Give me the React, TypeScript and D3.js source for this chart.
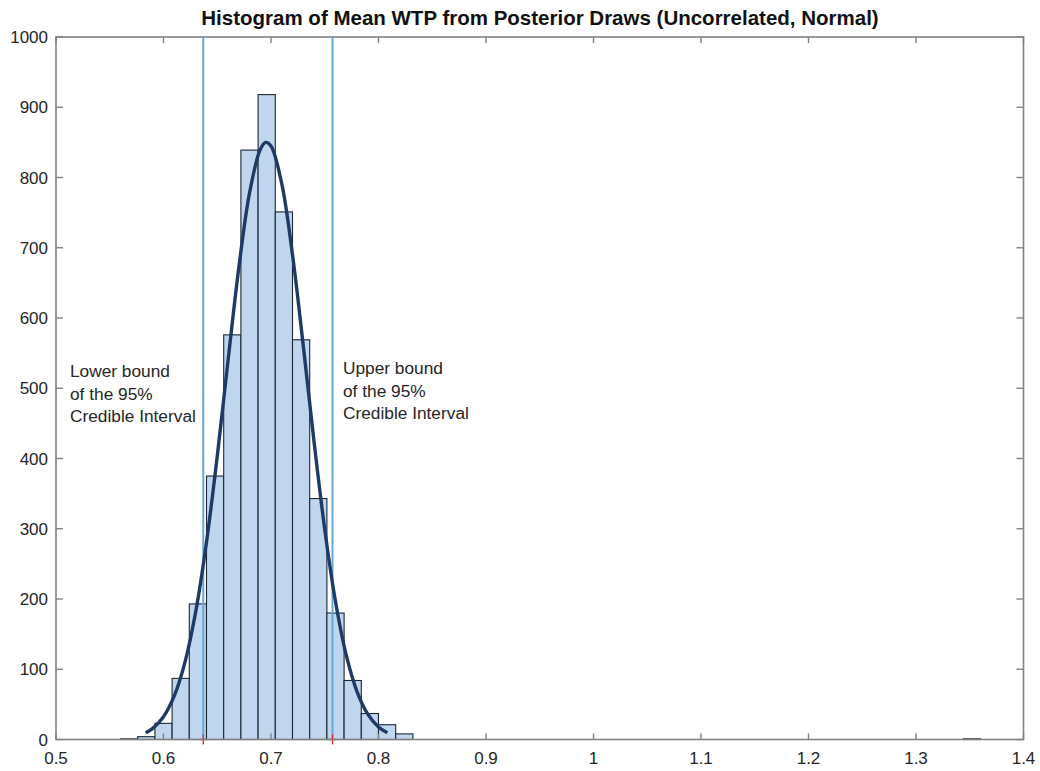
import React from "react";
import * as d3 from "d3";

const title = "Histogram of Mean WTP from Posterior Draws (Uncorrelated, Normal)";
const binStarts = [0.56, 0.576, 0.592, 0.608, 0.624, 0.64, 0.656, 0.672, 0.688, 0.704, 0.72, 0.736, 0.752, 0.768, 0.784, 0.8, 0.816, 1.344];
const binCounts = [1, 4, 23, 87, 193, 375, 576, 839, 918, 751, 569, 343, 180, 84, 37, 21, 8, 1];
const binWidth = 0.016;
const curveX = [0.5834, 0.59, 0.6, 0.61, 0.62, 0.63, 0.64, 0.65, 0.66, 0.67, 0.68, 0.69, 0.695, 0.7, 0.71, 0.72, 0.73, 0.74, 0.75, 0.76, 0.77, 0.78, 0.79, 0.8, 0.8082];
const curveY = [9.5, 15.9, 32.5, 62.0, 110.2, 182.2, 280.9, 403.2, 538.9, 670.8, 777.8, 839.9, 850, 844.7, 791.2, 690.2, 560.8, 424.4, 299.1, 196.4, 120.0, 68.3, 36.2, 17.9, 9.5];
const ciBounds = [0.637, 0.7572];
const xTicks = [0.5, 0.6, 0.7, 0.8, 0.9, 1, 1.1, 1.2, 1.3, 1.4];
const yTicks = [0, 100, 200, 300, 400, 500, 600, 700, 800, 900, 1000];
const lowerLabel = ["Lower bound", "of the 95%", "Credible Interval"];
const upperLabel = ["Upper bound", "of the 95%", "Credible Interval"];

const W = 1040, H = 771;
const L = 56, R = 1023.5, T = 37, B = 739.5;
const FONT = "Liberation Sans, Arial, Helvetica, sans-serif";
const AX = "#828282";
const TXT = "#262626";

export default function App() {
  const x = d3.scaleLinear().domain([0.5, 1.4]).range([L, R]);
  const y = d3.scaleLinear().domain([0, 1000]).range([B, T]);
  const line = d3.line<number>().x((_, i) => x(curveX[i])).y((d) => y(d)).curve(d3.curveCatmullRom);
  const tk = 6;
  return (
    <svg width={W} height={H} style={{ position: "absolute", left: 0, top: 0, background: "#fff" }} fontFamily={FONT}>
      <rect x={0} y={0} width={W} height={H} fill="#fff" />
      <text x={540} y={25} textAnchor="middle" fontSize={20.5} fontWeight="bold" fill="#111">{title}</text>
      {binStarts.map((s, i) => (
        <rect key={i} x={x(s)} y={y(binCounts[i])} width={x(s + binWidth) - x(s)} height={B - y(binCounts[i])}
          fill="#bfd6ee" stroke="#1c2733" strokeWidth={1.1} />
      ))}
      {ciBounds.map((c, i) => (
        <line key={i} x1={x(c)} x2={x(c)} y1={T} y2={B} stroke="#66a8d8" strokeWidth={2} />
      ))}
      <path d={line(curveY) || ""} fill="none" stroke="#1f3a64" strokeWidth={3.4} />
      {ciBounds.map((c, i) => (
        <g key={i} stroke="#e02020" strokeWidth={1.3}>
          <line x1={x(c) - 4} x2={x(c) + 4} y1={B} y2={B} />
          <line x1={x(c)} x2={x(c)} y1={B - 5} y2={B + 5} />
        </g>
      ))}
      <rect x={L} y={T} width={R - L} height={B - T} fill="none" stroke={AX} strokeWidth={1.6} />
      {xTicks.map((t, i) => (
        <g key={i}>
          <line x1={x(t)} x2={x(t)} y1={B} y2={B - tk} stroke={AX} strokeWidth={1.4} />
          <line x1={x(t)} x2={x(t)} y1={T} y2={T + tk} stroke={AX} strokeWidth={1.4} />
          <text x={x(t)} y={764} textAnchor="middle" fontSize={17} fill={TXT}>{String(t)}</text>
        </g>
      ))}
      {yTicks.map((t, i) => (
        <g key={i}>
          <line x1={L} x2={L + tk + 1} y1={y(t)} y2={y(t)} stroke={AX} strokeWidth={1.4} />
          <line x1={R} x2={R - tk - 1} y1={y(t)} y2={y(t)} stroke={AX} strokeWidth={1.4} />
          <text x={48} y={y(t) + 6} textAnchor="end" fontSize={17} fill={TXT}>{t}</text>
        </g>
      ))}
      {lowerLabel.map((s, i) => (
        <text key={i} x={70} y={377 + i * 22.5} fontSize={17.3} fill={TXT}>{s}</text>
      ))}
      {upperLabel.map((s, i) => (
        <text key={i} x={343} y={374 + i * 22.5} fontSize={17.3} fill={TXT}>{s}</text>
      ))}
    </svg>
  );
}
